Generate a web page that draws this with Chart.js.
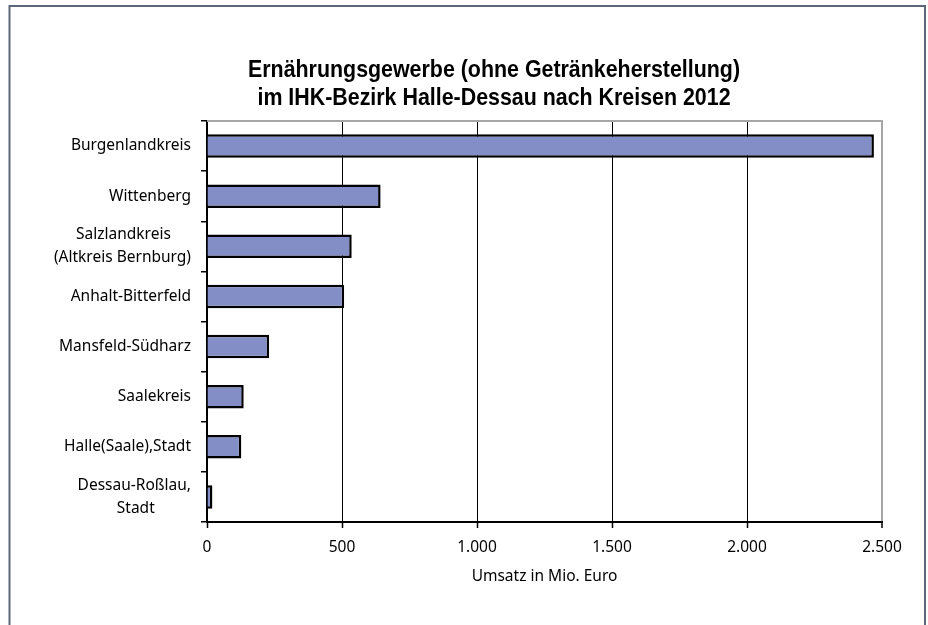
<!DOCTYPE html>
<html>
<head>
<meta charset="utf-8">
<script src="https://cdn.jsdelivr.net/npm/chart.js@4.4.1/dist/chart.umd.min.js"></script>
<style>
  html, body { margin: 0; padding: 0; background: #fff; }
  canvas { display: block; }
</style>
</head>
<body>
<canvas id="myChart" width="928" height="625"></canvas>
<script>
// Daten (Mio. Euro)
const kreise = [
  'Burgenlandkreis',
  'Wittenberg',
  ['Salzlandkreis', '(Altkreis Bernburg)'],
  'Anhalt-Bitterfeld',
  'Mansfeld-Südharz',
  'Saalekreis',
  'Halle(Saale),Stadt',
  ['Dessau-Roßlau,', 'Stadt']
];
const umsatz = [2470, 643, 536, 508, 230, 136, 127, 20];
const xTicks = [0, 500, 1000, 1500, 2000, 2500];

const titel = ['Ernährungsgewerbe (ohne Getränkeherstellung)', 'im IHK-Bezirk Halle-Dessau nach Kreisen 2012'];
const achsenTitel = 'Umsatz in Mio. Euro';

const labelFont = '"Noto Sans", sans-serif';
const labelSize = 15.5;

// mehrzeilige Beschriftungen zentriert setzen (mit Leerzeichen auffuellen)
const measure = document.createElement('canvas').getContext('2d');
measure.font = labelSize + 'px ' + labelFont;
function centerLines(lines) {
  if (!Array.isArray(lines)) return lines;
  const sp = measure.measureText(' ').width;
  const widths = lines.map(l => measure.measureText(l).width);
  const max = Math.max(...widths);
  return lines.map((l, i) => l + ' '.repeat(Math.round((max - widths[i]) / 2 / sp)));
}

function deZahl(v) {
  return String(v).replace(/\B(?=(\d{3})+(?!\d))/g, '.');
}

const rahmen = {
  id: 'rahmen',
  beforeDraw(chart) {
    const c = chart.ctx;
    c.save();
    c.fillStyle = '#fff';
    c.fillRect(0, 0, chart.width, chart.height);
    c.strokeStyle = '#5d6678';
    c.lineWidth = 2;
    c.strokeRect(9.5, 6, 915.5, 700);
    c.restore();
  },
  beforeDatasetsDraw(chart) {
    const a = chart.chartArea;
    const c = chart.ctx;
    c.save();
    c.strokeStyle = '#a6a6a6';
    c.lineWidth = 2;
    c.beginPath();
    c.moveTo(a.left, a.top);
    c.lineTo(a.right + 1, a.top);
    c.stroke();
    c.restore();
  },
  afterDraw(chart) {
    // Titel: schmale, fette Schrift wie im Original
    const c = chart.ctx;
    c.save();
    c.fillStyle = '#000';
    c.font = 'bold 24px "Liberation Sans", sans-serif';
    c.textAlign = 'center';
    c.textBaseline = 'middle';
    const sx = 492 / c.measureText(titel[0]).width;
    c.translate(494, 0);
    c.scale(sx, 1);
    c.fillText(titel[0], 0, 70);
    c.fillText(titel[1], 0, 98);
    c.restore();
  }
};

var ctx = document.getElementById('myChart');

var myChart = new Chart(ctx, {
  type: 'bar',
  data: {
    labels: kreise,
    datasets: [
      {
        label: achsenTitel,
        data: umsatz,
        backgroundColor: '#848ec6',
        borderColor: '#000',
        borderWidth: 2.5,
        barPercentage: 0.47,
        categoryPercentage: 1
      }
    ]
  },
  plugins: [rahmen],
  options: {
    indexAxis: 'y',
    responsive: false,
    animation: false,
    devicePixelRatio: 1,
    layout: {
      padding: { left: 10, right: 46, top: 121, bottom: 0 }
    },
    plugins: {
      legend: { display: false },
      tooltip: { enabled: false },
      title: { display: false }
    },
    scales: {
      x: {
        min: 0,
        max: 2500,
        afterBuildTicks(scale) {
          scale.ticks = xTicks.map(v => ({ value: v }));
        },
        afterFit(scale) { scale.height = 103; },
        grid: {
          color: c => (c.tick && c.tick.value === 2500 ? '#a6a6a6' : '#000'),
          lineWidth: c => (c.tick && c.tick.value === 2500 ? 2 : 1),
          tickColor: '#000',
          tickWidth: 1.5,
          tickLength: 6
        },
        border: { display: true, color: '#000', width: 2 },
        ticks: {
          color: '#000',
          padding: 10,
          maxRotation: 0,
          font: { family: labelFont, size: labelSize },
          callback: v => deZahl(v)
        },
        title: {
          display: true,
          text: achsenTitel,
          color: '#000',
          font: { family: labelFont, size: labelSize, lineHeight: 1.2 },
          padding: { top: 0, bottom: 39 }
        }
      },
      y: {
        afterFit(scale) { scale.width = 197; },
        grid: {
          display: true,
          drawOnChartArea: false,
          offset: true,
          color: '#000',
          lineWidth: 1.5,
          tickLength: 6
        },
        border: { display: true, color: '#000', width: 2 },
        ticks: {
          color: '#000',
          padding: 10,
          autoSkip: false,
          font: { family: labelFont, size: labelSize, lineHeight: 1.45 },
          callback: function (v, i) { return centerLines(kreise[i]); }
        }
      }
    }
  }
});
</script>
</body>
</html>
